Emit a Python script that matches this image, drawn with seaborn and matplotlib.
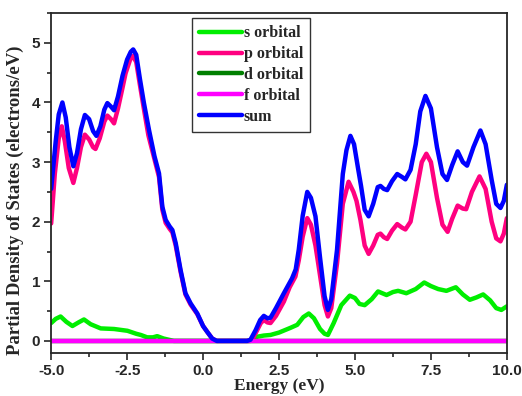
import seaborn as sns
sns.set_style('ticks')
import matplotlib.pyplot as plt
from matplotlib.ticker import MultipleLocator
import pandas as pd

# energy grid points and values
sum_energy = [-5.0, -4.85, -4.75, -4.63, -4.52, -4.40, -4.27, -4.15, -4.02, -3.89, -3.75, -3.62,
              -3.51, -3.38, -3.25, -3.15, -3.03, -2.93, -2.80, -2.65, -2.50, -2.38, -2.30, -2.20,
              -2.08, -1.95, -1.78, -1.60, -1.45, -1.34, -1.23, -1.10, -1.01, -0.90, -0.74, -0.58,
              -0.41, -0.19, 0.0, 0.14, 0.30, 0.45, 1.45, 1.56, 1.73, 1.88, 2.0, 2.12, 2.22, 2.40,
              2.66, 2.93, 3.05, 3.15, 3.28, 3.43, 3.55, 3.70, 3.85, 4.0, 4.11, 4.22, 4.41, 4.60,
              4.72, 4.85, 4.97, 5.10, 5.20, 5.32, 5.45, 5.60, 5.75, 5.84, 5.95, 6.06, 6.22, 6.39,
              6.55, 6.66, 6.83, 7.0, 7.15, 7.32, 7.50, 7.70, 7.88, 8.03, 8.20, 8.38, 8.55, 8.69,
              8.90, 9.13, 9.30, 9.50, 9.65, 9.79, 9.90, 10.0]
sum_dos = [2.55, 3.35, 3.8, 4.0, 3.75, 3.25, 2.93, 3.15, 3.55, 3.79, 3.72, 3.52,
           3.44, 3.6, 3.88, 3.99, 3.93, 3.87, 4.1, 4.45, 4.72, 4.85, 4.89, 4.8,
           4.4, 4.0, 3.54, 3.1, 2.81, 2.25, 2.03, 1.92, 1.86, 1.64, 1.19, 0.80,
           0.63, 0.46, 0.25, 0.15, 0.04, 0.0, 0.0, 0.02, 0.18, 0.35, 0.42, 0.38, 0.39, 0.55,
           0.8, 1.05, 1.2, 1.53, 2.1, 2.5, 2.4, 2.09, 1.4, 0.75, 0.52, 0.7, 1.53, 2.8,
           3.2, 3.44, 3.3, 2.9, 2.6, 2.2, 2.09, 2.3, 2.58, 2.60, 2.55, 2.53, 2.68, 2.80,
           2.75, 2.71, 2.87, 3.3, 3.85, 4.11, 3.9, 3.25, 2.8, 2.70, 2.95, 3.18, 3.0, 2.94,
           3.25, 3.53, 3.3, 2.7, 2.3, 2.23, 2.35, 2.62]

p_energy = [-5.0, -4.88, -4.75, -4.65, -4.55, -4.42, -4.27, -4.15, -4.02, -3.89, -3.75, -3.62,
            -3.54, -3.40, -3.25, -3.15, -3.03, -2.93, -2.80, -2.65, -2.55, -2.40, -2.31, -2.20,
            -2.08, -1.95, -1.80, -1.60, -1.45, -1.34, -1.23, -1.10, -1.01, -0.90, -0.74, -0.58,
            -0.41, -0.19, 0.0, 0.14, 0.30, 0.45, 1.50, 1.62, 1.78, 1.90, 2.0, 2.12, 2.22, 2.40,
            2.66, 2.85, 3.04, 3.15, 3.28, 3.43, 3.55, 3.70, 3.85, 4.0, 4.11, 4.22, 4.41, 4.60,
            4.79, 4.95, 5.05, 5.18, 5.32, 5.45, 5.60, 5.75, 5.84, 5.95, 6.06, 6.22, 6.39, 6.55,
            6.66, 6.83, 7.0, 7.20, 7.35, 7.50, 7.70, 7.88, 8.05, 8.20, 8.38, 8.55, 8.66, 8.85,
            9.10, 9.30, 9.50, 9.65, 9.79, 9.90, 10.0]
p_dos = [1.97, 2.8, 3.4, 3.6, 3.35, 2.9, 2.65, 2.9, 3.25, 3.46, 3.38, 3.25,
         3.22, 3.4, 3.68, 3.78, 3.72, 3.65, 3.9, 4.25, 4.49, 4.72, 4.78, 4.68,
         4.3, 3.9, 3.45, 3.05, 2.75, 2.2, 1.98, 1.88, 1.82, 1.6, 1.16, 0.78,
         0.61, 0.45, 0.25, 0.15, 0.04, 0.0, 0.0, 0.02, 0.18, 0.3, 0.35, 0.31, 0.30, 0.42,
         0.66, 0.9, 1.08, 1.35, 1.75, 2.06, 1.95, 1.6, 1.1, 0.6, 0.41, 0.55, 1.3, 2.3,
         2.67, 2.5, 2.35, 2.03, 1.6, 1.46, 1.6, 1.78, 1.80, 1.74, 1.71, 1.85, 1.96, 1.9,
         1.87, 2.0, 2.45, 3.0, 3.14, 3.0, 2.4, 1.95, 1.83, 2.05, 2.27, 2.22, 2.21, 2.5,
         2.76, 2.55, 2.0, 1.72, 1.67, 1.8, 2.06]

s_energy = [-5.0, -4.85, -4.69, -4.5, -4.30, -4.1, -3.92, -3.7, -3.37, -2.93, -2.49, -2.2,
            -2.05, -1.84, -1.65, -1.51, -1.3, -0.96, 1.56, 1.78, 2.0, 2.22, 2.5, 2.88, 3.1,
            3.3, 3.48, 3.65, 3.85, 4.0, 4.11, 4.3, 4.55, 4.83, 5.0, 5.15, 5.32, 5.55, 5.76,
            6.04, 6.25, 6.42, 6.69, 7.0, 7.28, 7.5, 7.74, 8.01, 8.32, 8.55, 8.78, 9.0, 9.22,
            9.45, 9.65, 9.82, 10.0]
s_dos = [0.30, 0.37, 0.41, 0.32, 0.25, 0.31, 0.36, 0.28, 0.21, 0.20, 0.17, 0.12,
         0.10, 0.06, 0.06, 0.08, 0.04, 0.0, 0.0, 0.07, 0.09, 0.10, 0.14, 0.22, 0.27,
         0.4, 0.46, 0.38, 0.2, 0.12, 0.10, 0.3, 0.6, 0.76, 0.72, 0.62, 0.60, 0.7, 0.83,
         0.77, 0.82, 0.84, 0.80, 0.87, 0.98, 0.92, 0.87, 0.84, 0.9, 0.78, 0.69, 0.73, 0.78,
         0.68, 0.55, 0.52, 0.58]

df_energy = [-5.0, 10.0]
d_dos = [0.0, 0.0]
f_dos = [0.0, 0.0]

series = [
    ('s orbital', s_energy, s_dos, '#00ee00'),
    ('p orbital', p_energy, p_dos, '#ff0080'),
    ('d orbital', df_energy, d_dos, '#007f00'),
    ('f orbital', df_energy, f_dos, '#ff00ff'),
    ('sum', sum_energy, sum_dos, '#0000ff'),
]

fig = plt.figure(figsize=(5.22, 3.96), dpi=100)
ax = fig.add_axes([0.098, 0.109, 0.873, 0.858])

for name, x, y, col in series:
    data = pd.DataFrame({'Energy': x, 'DOS': y})
    sns.lineplot(x='Energy', y='DOS', data=data, ax=ax, color=col, linewidth=3.2,
                 label=name, sort=False)

ax.set_xlim(-5, 10)
ax.set_ylim(-0.2, 5.5)
ax.xaxis.set_major_locator(MultipleLocator(2.5))
ax.xaxis.set_minor_locator(MultipleLocator(1.25))
ax.yaxis.set_major_locator(MultipleLocator(1))
ax.yaxis.set_minor_locator(MultipleLocator(0.5))
ax.tick_params(which='major', direction='out', length=5, width=1.2, pad=3)
ax.tick_params(which='minor', direction='out', length=3, width=1.2)
ax.xaxis.set_major_formatter(plt.FuncFormatter(lambda v, p: '%.1f' % v))
for lab in ax.get_xticklabels() + ax.get_yticklabels():
    lab.set_fontfamily('Liberation Sans')
    lab.set_fontweight('bold')
    lab.set_fontsize(11)
for sp in ax.spines.values():
    sp.set_linewidth(1.3)

ax.set_xlabel('Energy (eV)', fontsize=12.5, fontweight='bold', family='Liberation Serif', labelpad=0)
ax.set_ylabel('Partial Density of States (electrons/eV)', fontsize=13.5, fontweight='bold',
              family='Liberation Serif')
ax.yaxis.set_label_coords(-0.06, 0.45)

leg = ax.legend(loc='upper left', bbox_to_anchor=(0.309, 0.985), frameon=True, fancybox=False,
                edgecolor='black', handlelength=2.7, handletextpad=0.1, labelspacing=0.3,
                borderpad=0.45, borderaxespad=0,
                prop={'family': 'Liberation Serif', 'weight': 'bold', 'size': 11.5})
leg.get_frame().set_linewidth(1.0)

fig.savefig('out.png', dpi=100)
